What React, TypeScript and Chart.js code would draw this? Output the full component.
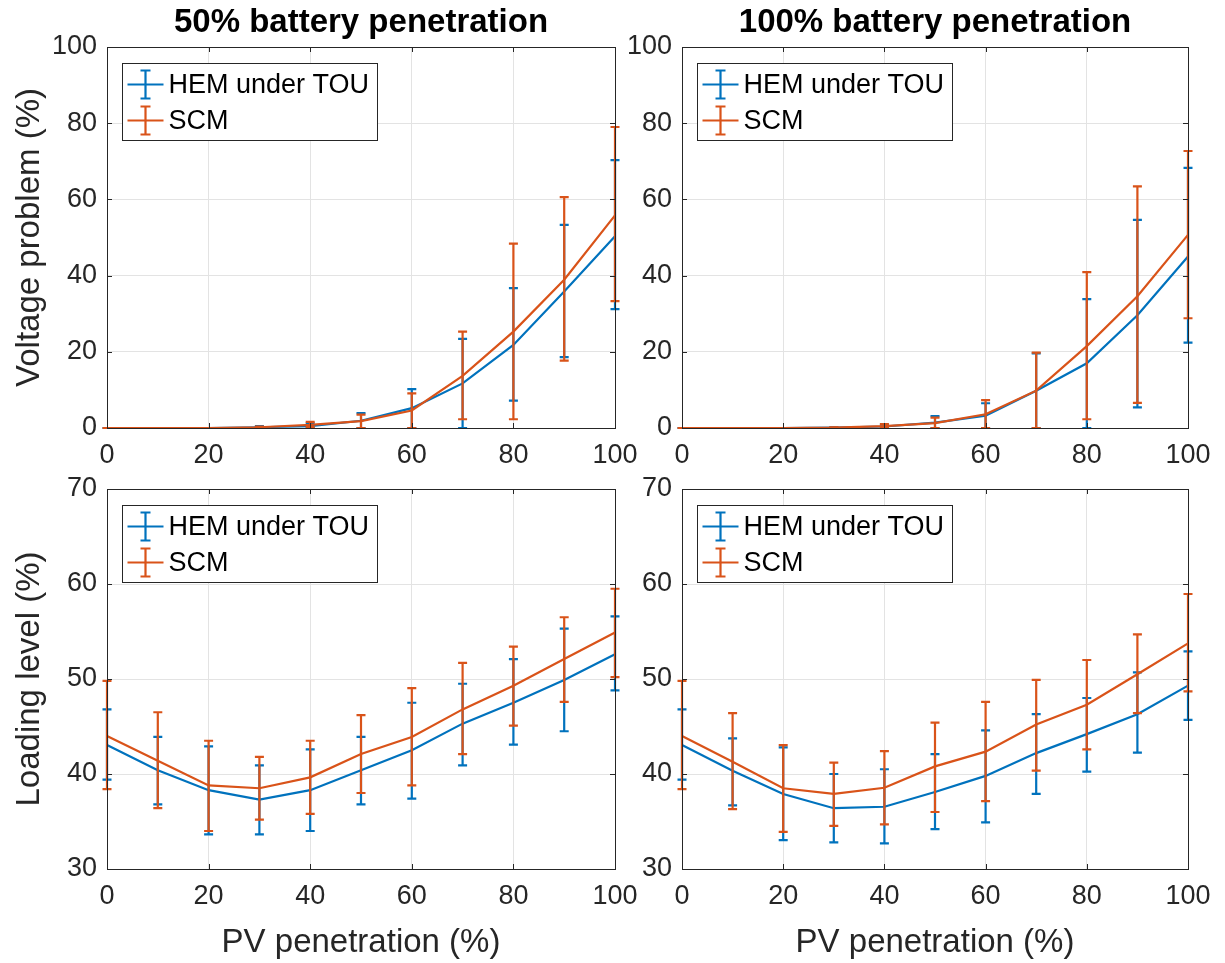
import React, { useEffect, useRef } from 'react';
import { Chart, registerables } from 'chart.js';
Chart.register(...registerables);

// ---------- data ----------
const pvPenetration = [0, 10, 20, 30, 40, 50, 60, 70, 80, 90, 100];
const xTicks = [0, 20, 40, 60, 80, 100];
const voltageTicks = [0, 20, 40, 60, 80, 100];
const loadingTicks = [30, 40, 50, 60, 70];
const seriesNames = ['HEM under TOU', 'SCM'];
const panelTitles = ['50% battery penetration', '100% battery penetration'];
const yTitles = ['Voltage problem (%)', 'Loading level (%)'];
const xTitle = 'PV penetration (%)';

// Voltage problem, 50% battery
const hemV50 = [0, 0, 0, 0.2, 0.5, 1.9, 5.2, 11.7, 21.8, 35.8, 50.3];
const hemV50Lo = [0, 0, 0, 0, 0, 0, 0, 0, 7.2, 18.6, 31.2];
const hemV50Hi = [0, 0, 0, 0.5, 1.2, 3.9, 10.2, 23.4, 36.7, 53.3, 70.3];
const scmV50 = [0, 0, 0, 0.2, 0.8, 1.8, 4.6, 13.7, 25.3, 38.9, 55.8];
const scmV50Lo = [0, 0, 0, 0, 0.3, 0, 0, 2.3, 2.3, 17.7, 33.3];
const scmV50Hi = [0, 0, 0, 0.4, 1.6, 3.5, 9.1, 25.3, 48.4, 60.6, 79.0];

// Voltage problem, 100% battery
const hemV100 = [0, 0, 0, 0.1, 0.4, 1.4, 3.2, 9.8, 17.0, 29.6, 45.0];
const hemV100Lo = [0, 0, 0, 0, 0, 0, 0, 0, 0, 5.4, 22.4];
const hemV100Hi = [0, 0, 0, 0.2, 0.9, 3.1, 6.5, 19.6, 33.8, 54.6, 68.3];
const scmV100 = [0, 0, 0, 0.1, 0.5, 1.3, 3.6, 9.8, 21.5, 34.6, 50.7];
const scmV100Lo = [0, 0, 0, 0, 0, 0, 0, 0, 2.3, 6.6, 28.8];
const scmV100Hi = [0, 0, 0, 0.2, 1.0, 2.7, 7.3, 19.8, 40.9, 63.4, 72.7];

// Loading level, 50% battery
const hemL50 = [43.05, 40.4, 38.3, 37.3, 38.3, 40.4, 42.5, 45.3, 47.5, 49.9, 52.6];
const hemL50Lo = [39.4, 36.8, 33.65, 33.65, 34.0, 36.8, 37.4, 40.9, 43.1, 44.5, 48.8];
const hemL50Hi = [46.8, 43.9, 42.9, 40.9, 42.6, 43.9, 47.5, 49.5, 52.1, 55.3, 56.6];
const scmL50 = [44.0, 41.4, 38.8, 38.5, 39.65, 42.1, 43.9, 46.8, 49.3, 52.1, 54.9];
const scmL50Lo = [38.4, 36.4, 34.0, 35.2, 35.8, 38.0, 38.8, 42.1, 45.1, 47.6, 50.2];
const scmL50Hi = [49.8, 46.5, 43.5, 41.8, 43.5, 46.2, 49.05, 51.7, 53.4, 56.5, 59.5];

// Loading level, 100% battery
const hemL100 = [43.05, 40.35, 37.9, 36.4, 36.55, 38.1, 39.8, 42.2, 44.2, 46.3, 49.3];
const hemL100Lo = [39.4, 36.7, 33.05, 32.8, 32.7, 34.2, 34.9, 37.9, 40.25, 42.25, 45.7];
const hemL100Hi = [46.8, 43.75, 42.8, 40.0, 40.5, 42.1, 44.6, 46.3, 48.0, 50.7, 52.9];
const scmL100 = [44.0, 41.3, 38.5, 37.9, 38.55, 40.8, 42.35, 45.2, 47.3, 50.5, 53.75];
const scmL100Lo = [38.4, 36.3, 33.9, 34.55, 34.7, 36.0, 37.15, 40.35, 42.6, 46.4, 48.7];
const scmL100Hi = [49.8, 46.4, 43.05, 41.2, 42.4, 45.4, 47.6, 49.9, 52.0, 54.7, 58.95];

// ---------- styling ----------
const W = 1225;
const H = 963;
const FONT = '"Liberation Sans", Arial, Helvetica, sans-serif';
const BLUE = '#0072BD';
const ORANGE = '#D95319';
const AXIS = '#262626';
const GRID = '#e3e3e3';
const LW = 2.2;
const TICK_SIZE = 27;
const LABEL_SIZE = 33;
const TITLE_SIZE = 33;
const Y_AXIS_W = 100;
const X_AXIS_H = 40;

type Area = { left: number; right: number; top: number; bottom: number };
type Panel = {
  area: Area;
  yTicks: number[];
  title?: string;
  yTitle?: string;
  xTitle?: string;
  hem: number[]; hemLo: number[]; hemHi: number[];
  scm: number[]; scmLo: number[]; scmHi: number[];
};

const panels: Panel[] = [
  { area: { left: 107, right: 615, top: 47, bottom: 428 }, yTicks: voltageTicks, title: panelTitles[0], yTitle: yTitles[0],
    hem: hemV50, hemLo: hemV50Lo, hemHi: hemV50Hi, scm: scmV50, scmLo: scmV50Lo, scmHi: scmV50Hi },
  { area: { left: 682, right: 1188, top: 47, bottom: 428 }, yTicks: voltageTicks, title: panelTitles[1],
    hem: hemV100, hemLo: hemV100Lo, hemHi: hemV100Hi, scm: scmV100, scmLo: scmV100Lo, scmHi: scmV100Hi },
  { area: { left: 107, right: 615, top: 489, bottom: 869 }, yTicks: loadingTicks, yTitle: yTitles[1], xTitle,
    hem: hemL50, hemLo: hemL50Lo, hemHi: hemL50Hi, scm: scmL50, scmLo: scmL50Lo, scmHi: scmL50Hi },
  { area: { left: 682, right: 1188, top: 489, bottom: 869 }, yTicks: loadingTicks, xTitle,
    hem: hemL100, hemLo: hemL100Lo, hemHi: hemL100Hi, scm: scmL100, scmLo: scmL100Lo, scmHi: scmL100Hi },
];

function drawBar(ctx: CanvasRenderingContext2D, x: number, y1: number, y2: number, cap: number) {
  ctx.beginPath();
  ctx.moveTo(x, y1);
  ctx.lineTo(x, y2);
  ctx.moveTo(x - cap, y1);
  ctx.lineTo(x + cap, y1);
  ctx.moveTo(x - cap, y2);
  ctx.lineTo(x + cap, y2);
  ctx.stroke();
}

const errorBarPlugin = {
  id: 'errorBars',
  afterDatasetDraw(chart: any, args: any) {
    const ds = chart.data.datasets[args.index];
    const xs = chart.scales.x;
    const ys = chart.scales.y;
    const ctx: CanvasRenderingContext2D = chart.ctx;
    ctx.save();
    ctx.strokeStyle = ds.borderColor;
    ctx.lineWidth = LW;
    ds.data.forEach((pt: any, i: number) => {
      const px = xs.getPixelForValue(pt.x);
      drawBar(ctx, px, ys.getPixelForValue(ds.errLo[i]), ys.getPixelForValue(ds.errHi[i]), 4.5);
    });
    ctx.restore();
  },
};

function decorPlugin(p: Panel) {
  return {
    id: 'decor',
    afterDraw(chart: any) {
      const ctx: CanvasRenderingContext2D = chart.ctx;
      const a = chart.chartArea;
      const xs = chart.scales.x;
      const ys = chart.scales.y;
      ctx.save();
      // box
      ctx.strokeStyle = AXIS;
      ctx.lineWidth = 1;
      ctx.strokeRect(Math.round(a.left) + 0.5, Math.round(a.top) + 0.5, Math.round(a.right - a.left), Math.round(a.bottom - a.top));
      // inward tick marks
      const tl = 5;
      ctx.beginPath();
      xTicks.forEach((v) => {
        const px = Math.round(xs.getPixelForValue(v)) + 0.5;
        ctx.moveTo(px, a.bottom); ctx.lineTo(px, a.bottom - tl);
        ctx.moveTo(px, a.top); ctx.lineTo(px, a.top + tl);
      });
      p.yTicks.forEach((v) => {
        const py = Math.round(ys.getPixelForValue(v)) + 0.5;
        ctx.moveTo(a.left, py); ctx.lineTo(a.left + tl, py);
        ctx.moveTo(a.right, py); ctx.lineTo(a.right - tl, py);
      });
      ctx.stroke();

      // legend
      const bx = a.left + 15.5, by = a.top + 16.5, bw = 255, bh = 77;
      ctx.fillStyle = '#ffffff';
      ctx.fillRect(bx, by, bw, bh);
      ctx.strokeStyle = AXIS;
      ctx.lineWidth = 1;
      ctx.strokeRect(bx, by, bw, bh);
      const rows = [
        { name: seriesNames[0], color: BLUE, y: by + 21 },
        { name: seriesNames[1], color: ORANGE, y: by + 57 },
      ];
      rows.forEach((r) => {
        ctx.strokeStyle = r.color;
        ctx.lineWidth = LW;
        ctx.beginPath();
        ctx.moveTo(bx + 5, r.y);
        ctx.lineTo(bx + 41, r.y);
        ctx.stroke();
        drawBar(ctx, bx + 23, r.y - 14, r.y + 14, 5);
        ctx.fillStyle = '#000000';
        ctx.font = `${TICK_SIZE}px ${FONT}`;
        ctx.textAlign = 'left';
        ctx.textBaseline = 'middle';
        ctx.fillText(r.name, bx + 46, r.y + 1);
      });

      // titles
      ctx.fillStyle = '#000000';
      ctx.textAlign = 'center';
      ctx.textBaseline = 'middle';
      if (p.title) {
        ctx.font = `bold ${TITLE_SIZE}px ${FONT}`;
        ctx.fillText(p.title, (a.left + a.right) / 2, 23);
      }
      ctx.fillStyle = AXIS;
      if (p.xTitle) {
        ctx.font = `${LABEL_SIZE}px ${FONT}`;
        ctx.fillText(p.xTitle, (a.left + a.right) / 2, 943);
      }
      if (p.yTitle) {
        ctx.font = `${LABEL_SIZE}px ${FONT}`;
        ctx.translate(30, (a.top + a.bottom) / 2);
        ctx.rotate(-Math.PI / 2);
        ctx.fillText(p.yTitle, 0, 0);
      }
      ctx.restore();
    },
  };
}

function makeConfig(p: Panel): any {
  const mk = (label: string, color: string, vals: number[], lo: number[], hi: number[], order: number) => ({
    label,
    data: pvPenetration.map((x, i) => ({ x, y: vals[i] })),
    errLo: lo,
    errHi: hi,
    borderColor: color,
    backgroundColor: color,
    borderWidth: LW,
    pointRadius: 0,
    tension: 0,
    fill: false,
    clip: false,
    order,
  });
  const yMin = p.yTicks[0];
  const yMax = p.yTicks[p.yTicks.length - 1];
  const tickFont = { family: FONT, size: TICK_SIZE };
  return {
    type: 'line',
    data: {
      datasets: [
        mk(seriesNames[0], BLUE, p.hem, p.hemLo, p.hemHi, 2),
        mk(seriesNames[1], ORANGE, p.scm, p.scmLo, p.scmHi, 1),
      ],
    },
    options: {
      responsive: false,
      animation: false,
      events: [],
      layout: {
        padding: {
          left: p.area.left - Y_AXIS_W,
          right: W - p.area.right,
          top: p.area.top,
          bottom: H - p.area.bottom - X_AXIS_H,
        },
      },
      plugins: { legend: { display: false }, tooltip: { enabled: false }, title: { display: false } },
      scales: {
        x: {
          type: 'linear',
          min: 0,
          max: 100,
          afterBuildTicks: (s: any) => { s.ticks = xTicks.map((v) => ({ value: v })); },
          ticks: { color: AXIS, font: tickFont, padding: 11, maxRotation: 0, autoSkip: false },
          grid: { color: GRID, drawTicks: false, lineWidth: 1 },
          border: { display: true, color: AXIS, width: 1 },
          afterFit: (s: any) => { s.height = X_AXIS_H; },
        },
        y: {
          type: 'linear',
          min: yMin,
          max: yMax,
          afterBuildTicks: (s: any) => { s.ticks = p.yTicks.map((v) => ({ value: v })); },
          ticks: { color: AXIS, font: tickFont, padding: 10, autoSkip: false },
          grid: { color: GRID, drawTicks: false, lineWidth: 1 },
          border: { display: true, color: AXIS, width: 1 },
          afterFit: (s: any) => { s.width = Y_AXIS_W; },
        },
      },
    },
    plugins: [errorBarPlugin, decorPlugin(p)],
  };
}

function PanelChart({ panel }: { panel: Panel }) {
  const ref = useRef<HTMLCanvasElement>(null);
  useEffect(() => {
    const chart = new Chart(ref.current as HTMLCanvasElement, makeConfig(panel));
    return () => chart.destroy();
  }, [panel]);
  return <canvas ref={ref} width={W} height={H} style={{ position: 'absolute', left: 0, top: 0 }} />;
}

export default function App() {
  return (
    <div style={{ position: 'absolute', left: 0, top: 0, width: W, height: H, background: '#ffffff', overflow: 'hidden' }}>
      {panels.map((p, i) => (
        <PanelChart key={i} panel={p} />
      ))}
    </div>
  );
}
